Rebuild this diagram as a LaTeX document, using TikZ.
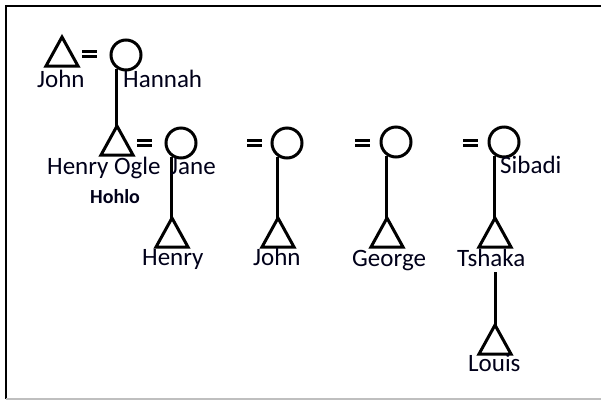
\documentclass[tikz,border=0pt]{standalone}
\usepackage{fontspec}
\setmainfont{Carlito}
\begin{document}
\begin{tikzpicture}[x=1pt,y=-1pt,
  sym/.style={line width=3pt, line join=miter},
  circ/.style={circle, draw, line width=3pt, minimum size=30pt, inner sep=0pt},
  link/.style={line width=3pt},
  eqbar/.style={line width=3pt},
  lbl/.style={anchor=base west, inner sep=0pt, text=black!90!blue, font=\fontsize{25}{30}\selectfont},
  small/.style={anchor=base west, inner sep=0pt, text=black!90!blue, font=\fontsize{20}{24}\selectfont\bfseries}]
\useasboundingbox (0,0) rectangle (601,400);
% frame
\draw[line width=2pt] (6,399) -- (6,6) -- (601,6);
\draw[gray!50, line width=1.5pt] (6,399) -- (601,399);
% triangles (apex coordinates)
\coordinate (t1) at (62,37);
\coordinate (t2) at (117,126);
\coordinate (t3) at (172,218);
\coordinate (t4) at (278,218);
\coordinate (t5) at (387,218);
\coordinate (t6) at (495,218);
\coordinate (t7) at (495,325);
\foreach \t in {t1,t2,t3,t4,t5,t6,t7}
  \draw[sym] (\t) -- ++(-16,29) -- ++(32,0) -- cycle;
% circles
\node[circ] (c1) at (126,55) {};
\node[circ] (c2) at (181,143) {};
\node[circ] (c3) at (287,143) {};
\node[circ] (c4) at (396,142) {};
\node[circ] (c5) at (504,142) {};
% equals signs
\foreach \x/\y in {82/51.5, 137/140, 247/140, 355/140, 463/140}{
  \draw[eqbar] (\x,\y) -- ++(15,0);
  \draw[eqbar] (\x,\y+5) -- ++(15,0);
}
% descent lines
\draw[link] (c1.-124) -- (c1.-124 |- t2);
\draw[link] (c2.-124) -- (c2.-124 |- t3);
\draw[link] (c3.-124) -- (c3.-124 |- t4);
\draw[link] (c4.-124) -- (c4.-124 |- t5);
\draw[link] (c5.-124) -- (c5.-124 |- t6);
\coordinate (s7) at (495,272);
\draw[link] (s7) -- (t7);
% labels
\node[lbl] (lJohn) at (37,87) {John};
\node[lbl] (lHannah) at (123,87) {Hannah};
\node[lbl] (lHenryOgle) at (47,174) {Henry Ogle};
\node[lbl] (lJane) at (170,174) {Jane};
\node[small] (lHohlo) at (90,203) {Hohlo};
\node[lbl] (lSibadi) at (500,173) {Sibadi};
\node[lbl] (lHenry) at (142,265) {Henry};
\node[lbl] (lJohn2) at (253,265) {John};
\node[lbl] (lGeorge) at (352,266) {George};
\node[lbl] (lTshaka) at (457,266) {Tshaka};
\node[lbl] (lLouis) at (468,371) {Louis};
\end{tikzpicture}
\end{document}
